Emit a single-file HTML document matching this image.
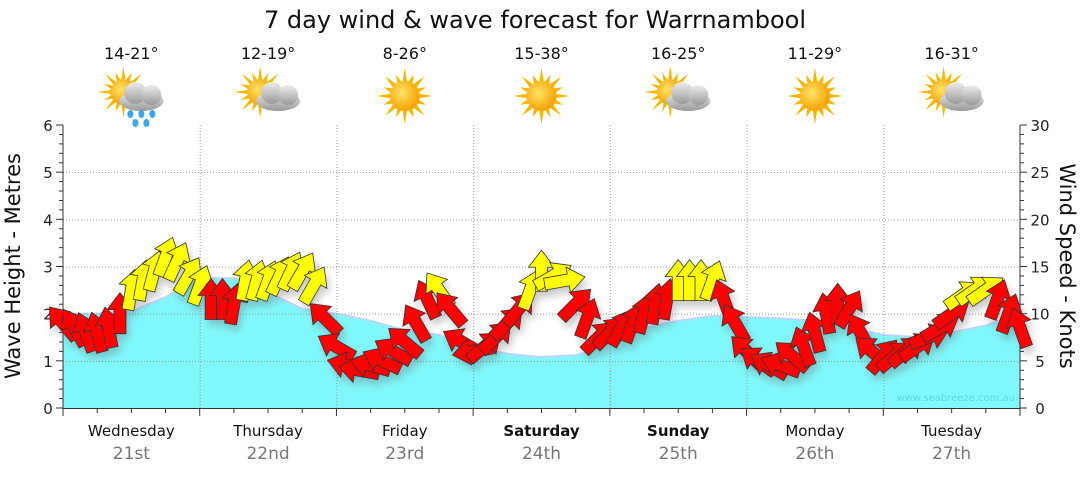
<!DOCTYPE html>
<html><head><meta charset="utf-8"><style>
body{margin:0;background:#fff;width:1080px;height:475px;overflow:hidden;font-family:"Liberation Sans","DejaVu Sans",sans-serif}
</style></head><body>
<svg id="chart" width="1080" height="475" xmlns="http://www.w3.org/2000/svg" font-family="'DejaVu Sans','Liberation Sans',sans-serif">
<defs>
<filter id="sh" x="-50%" y="-50%" width="200%" height="200%"><feGaussianBlur stdDeviation="4"/></filter>
<radialGradient id="sunG" cx="40%" cy="40%" r="60%"><stop offset="0" stop-color="#ffe36a"/><stop offset="1" stop-color="#f5a300"/></radialGradient>
<linearGradient id="cloudG" x1="0" y1="0" x2="0" y2="1"><stop offset="0" stop-color="#eee"/><stop offset="1" stop-color="#999"/></linearGradient>
</defs>
<text x="535" y="28" text-anchor="middle" font-size="24" fill="#111">7 day wind &amp; wave forecast for Warrnambool</text>
<g id="plot"></g>
</svg>
<script>
const days=["Wednesday","Thursday","Friday","Saturday","Sunday","Monday","Tuesday"];
const dates=["21st","22nd","23rd","24th","25th","26th","27th"];
const temps=["14-21°","12-19°","8-26°","15-38°","16-25°","11-29°","16-31°"];
const icons=["rain","cloud","sun","sun","cloud","sun","cloud"];
const boldDays=[false,false,false,true,true,false,false];
const waveHeights=[2.0,2.0,2.05,2.35,2.75,2.75,2.45,2.1,2.0,1.85,1.65,1.55,1.3,1.15,1.08,1.12,1.35,1.7,1.85,1.95,1.93,1.9,1.85,1.7,1.55,1.5,1.6,1.75,2.0];
const windSpeeds=[9,8.5,8,8,8.5,10,12.5,13.5,14.5,16,15.5,14,
13,11.5,11.5,11,13.5,13.5,13.5,14,14.5,14.5,13,9.5,
6.5,4.5,4,4.5,5,6,7,9,11.5,12.5,10.5,7,
6,6.5,7.5,9,10.5,12.5,14.5,14,13.5,11,9.5,7.5,
8,8.5,9,10,11,11.5,13.5,13.5,13.5,13.5,11.5,9,
6,5,4.5,4.5,5.5,6.5,8,10,11,10.5,8,6,
5.5,5.5,6,6.5,7.5,8.5,10,12,12.5,12.5,11.5,10,8.5];
const windDirs=[-40,-30,-20,-15,-10,0,10,10,15,20,25,30,
20,0,0,10,10,15,20,25,25,30,30,-45,
-60,-75,-80,-75,-65,-60,-50,-30,-25,-35,-40,-60,
-100,50,45,45,40,20,0,60,80,45,20,45,
45,30,20,15,10,10,0,0,0,20,-20,-30,
-45,-55,-60,-70,-50,-20,-15,-10,0,30,-30,-50,
40,50,50,55,70,60,55,55,55,55,20,20,-20];
const leftTicks=[0,1,2,3,4,5,6];
const rightTicks=[0,5,10,15,20,25,30];

const NS="http://www.w3.org/2000/svg";
const X0=63,X1=1020,Y0=408,Y1=125;
const xDay=d=>X0+(X1-X0)*d/7;
const yM=m=>Y0-(Y0-Y1)*m/6;
const yK=k=>Y0-(Y0-Y1)*k/30;
const g=document.getElementById('plot');
function el(t,a,p){const e=document.createElementNS(NS,t);for(const k in a)e.setAttribute(k,a[k]);(p||g).appendChild(e);return e;}
function tx(s,a,p){const e=el('text',a,p);e.textContent=s;return e;}

// wave area
let d=`M${X0},${Y0}`;
waveHeights.forEach((v,i)=>{d+=` L${xDay(i/4)},${yM(v)}`;});
d+=` L${X1},${Y0} Z`;
const wa=el('path',{d,fill:'#80f8fb',stroke:'none'});


let dl='';waveHeights.forEach((v,i)=>{dl+=(i?' L':'M')+xDay(i/4)+','+yM(v);});
const wl=el('path',{d:dl,fill:'none',stroke:'#b9d6ff',"stroke-width":2});


tx('www.seabreeze.com.au',{x:1015,y:401,"text-anchor":"end","font-size":10,fill:'#5fd6e0'});

// grid
const grid=el('g',{stroke:'#999',"stroke-width":1,"stroke-dasharray":"1,2"});


leftTicks.forEach(v=>{if(v>0&&v<6)el('line',{x1:X0,x2:X1,y1:yM(v)+.5,y2:yM(v)+.5},grid);});
for(let i=1;i<7;i++)el('line',{x1:xDay(i)+.5,x2:xDay(i)+.5,y1:Y1,y2:Y0},grid);

// axes
const ax=el('g',{stroke:'#333',"stroke-width":1});
el('line',{x1:X0,x2:X0,y1:Y1,y2:Y0},ax);
el('line',{x1:X1,x2:X1,y1:Y1,y2:Y0},ax);
el('line',{x1:X0,x2:X1,y1:Y0+.5,y2:Y0+.5},ax);
for(let m=0;m<=30;m++){const y=Y0-(Y0-Y1)*m/30;el('line',{x1:X0-(m%5?4:7),x2:X0,y1:y,y2:y},ax);el('line',{x1:X1,x2:X1+(m%5?4:7),y1:y,y2:y},ax);}
for(let q=0;q<=28;q++){const x=xDay(q/4);el('line',{x1:x,x2:x,y1:Y0,y2:Y0+(q%4?5:8)},ax);}
leftTicks.forEach(v=>{const t=tx(String(v),{x:48,y:yM(v)+6,"text-anchor":"middle","font-size":15,fill:'#222'});});
rightTicks.forEach(v=>{const t=tx(String(v),{x:1040,y:yK(v)+6,"text-anchor":"middle","font-size":15,fill:'#222'});});
const lt=tx('Wave Height - Metres',{transform:'translate(20,266) rotate(-90)',"text-anchor":"middle","font-size":21,fill:'#111'});


const rt=tx('Wind Speed - Knots',{transform:'translate(1060,266) rotate(90)',"text-anchor":"middle","font-size":21,fill:'#111'});



// day labels, temps, icons
const svg=document.getElementById('chart');
days.forEach((n,i)=>{const cx=xDay(i+.5);
 const a=tx(n,{x:cx,y:436,"text-anchor":"middle","font-size":15,fill:'#111',"font-weight":boldDays[i]?'bold':'normal'});
 
 
 const b=tx(dates[i],{x:cx,y:459,"text-anchor":"middle","font-size":17,fill:'#777'});
 
 
 const c=tx(temps[i],{x:cx,y:59,"text-anchor":"middle","font-size":16,fill:'#111'},svg);
 
 
 const ic=el('g',{transform:`translate(${cx-4},96)`},svg);
 
 
 const sun=icons[i]==='sun';
 const sx=sun?4:-4, sy=sun?0:-4, r=sun?15:13;
 for(let k=0;k<16;k++){const ang=k*Math.PI/8,L=k%2?r+8:r+13;
  el('polygon',{points:`${sx+Math.cos(ang-0.15)*r},${sy+Math.sin(ang-0.15)*r} ${sx+Math.cos(ang)*L},${sy+Math.sin(ang)*L} ${sx+Math.cos(ang+0.15)*r},${sy+Math.sin(ang+0.15)*r}`,fill:'#f6b800'},ic);}
 el('circle',{cx:sx,cy:sy,r:r,fill:'url(#sunG)'},ic);
 if(!sun){
  const cg=el('g',{fill:'url(#cloudG)'},ic);
  el('ellipse',{cx:14,cy:5,rx:22,ry:10},cg);el('circle',{cx:8,cy:-3,r:11},cg);el('circle',{cx:24,cy:-1,r:10},cg);
  if(icons[i]==='rain'){[[3,18],[14,18],[25,18],[8,27],[19,27]].forEach(p=>el('ellipse',{cx:p[0],cy:p[1],rx:3,ry:4,fill:'#3aa8e8'},ic));}
 }
});

// wind arrows
const arrows=el('g',{});
const shad=el('g',{filter:'url(#sh)',opacity:.35},arrows);
const arrowPts="-6,20 6,20 6,-4 13,-4 0,-21 -13,-4 -6,-4";
windSpeeds.forEach((s,i)=>{
 const x=X0+(X1-X0)*i/(windSpeeds.length-1), y=yK(s);
 el('polygon',{points:arrowPts,fill:'#666',transform:`translate(${x+3},${y+6}) rotate(${windDirs[i]})`},shad);
});
windSpeeds.forEach((s,i)=>{
 const x=X0+(X1-X0)*i/(windSpeeds.length-1), y=yK(s);
 const p=el('polygon',{points:arrowPts,fill:s>=12?'#ffff00':'#ff0000',stroke:'#333',"stroke-width":0.8,transform:`translate(${x},${y}) rotate(${windDirs[i]})`},arrows);
 
 
});
</script>
</body></html>
